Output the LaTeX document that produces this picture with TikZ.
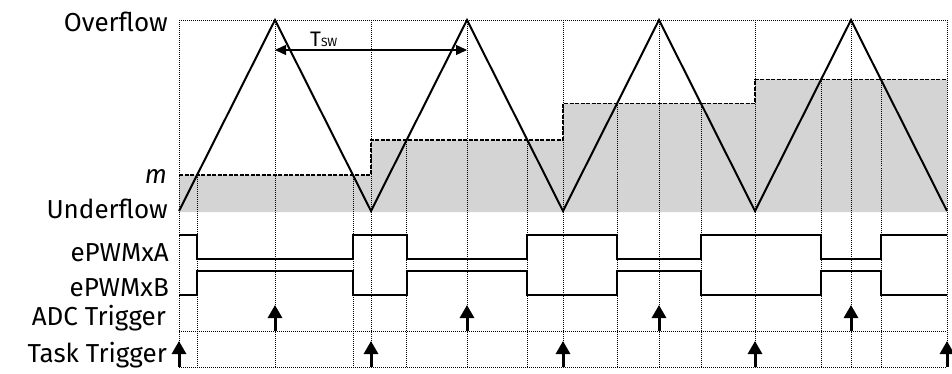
\documentclass[tikz,border=0pt]{standalone}
\usepackage{fontspec}
\setmainfont{Fira Sans}
\usetikzlibrary{arrows,arrows.meta,positioning}
\definecolor{fyll}{RGB}{212,212,212}
\tikzset{
    %Define standard arrow tip
    >={Triangle[length=11pt,width=10pt]},
    %Define style for the labels
    merke/.style={
           anchor=base east,
           inner sep=0pt,
           font=\fontsize{26}{26}\selectfont},
    % Define trigger arrow style
    trig/.style={
           -{Triangle[width=14pt,length=13pt]},
           line width=3pt}
}

\begin{document}
\begin{tikzpicture}[x=1pt, y=-1pt,
saw/.style={line width=2pt, line join=miter},
niva/.style={dash pattern=on 4pt off 1.5pt, line width=1.6pt},
prik/.style={dash pattern=on 1pt off 1pt, line width=0.8pt},
pwm/.style={line width=2pt}
]
\useasboundingbox (0,0) rectangle (952,374);
%Compare levels
\fill[fyll] (179,212) -- (179,175) -- (371,175) -- (371,140) -- (563,140) -- (563,103.5)
  -- (755,103.5) -- (755,79.5) -- (947,79.5) -- (947,212) -- cycle;
%Grid
\draw[prik] (179,20) -- (947,20);
\draw[prik] (179,331) -- (947,331);
\draw[prik] (179,367) -- (947,367);
\foreach \x in {179,275,...,947}
  \draw[prik] (\x,20) -- (\x,367);
\foreach \x/\y in {197.1/175,352.9/175,406.7/140,527.3/140,617/103.5,701/103.5,821.1/79.5,880.9/79.5}
  \draw[prik] (\x,\y) -- (\x,367);
\draw[niva] (179,175) -- (371,175) -- (371,140) -- (563,140) -- (563,103.5)
  -- (755,103.5) -- (755,79.5) -- (947,79.5);
%Carrier
\draw[saw] (179,211) \foreach \i in {1,...,4} { -- ++(96,-191) -- ++(96,191) };
%Outputs
\draw[pwm] (179,235) -| (197.1,259) -| (352.9,235) -| (406.7,259) -| (527.3,235)
  -| (617,259) -| (701,235) -| (821.1,259) -| (880.9,235) -- (947,235);
\draw[pwm] (179,295) -| (197.1,271) -| (352.9,295) -| (406.7,271) -| (527.3,295)
  -| (617,271) -| (701,295) -| (821.1,271) -| (880.9,295) -- (947,295);
%Triggers
\foreach \x in {275,467,659,851} {
  \coordinate (adc\x) at (\x,331);
  \coordinate (adctop\x) at (\x,305);
  \draw[trig] (adc\x) -- (adctop\x);
}
\foreach \x in {179,371,...,947} {
  \coordinate (task\x) at (\x,367);
  \coordinate (tasktop\x) at (\x,341);
  \draw[trig] (task\x) -- (tasktop\x);
}
%Period
\coordinate (pk1) at (275,50);
\coordinate (pk2) at (467,50);
\draw[<->, line width=1.4pt] (pk1) -- (pk2);
\node[anchor=base west, inner sep=0pt, font=\fontsize{21}{21}\selectfont] (tsw) at (310,46.5)
  {T{\fontsize{12}{12}\selectfont SW}};
%Labels
\node[merke] (ovf) at (168,32) {Overflow};
\node[merke] (mlab) at (167,183) {\textit{m}};
\node[merke] (unf) at (168,218) {Underflow};
\node[merke] (pwma) at (169,261) {ePWMxA};
\node[merke] (pwmb) at (169,296) {ePWMxB};
\node[merke] (adc) at (166,325) {ADC Trigger};
\node[merke] (task) at (167,362) {Task Trigger};
\end{tikzpicture}
\end{document}
